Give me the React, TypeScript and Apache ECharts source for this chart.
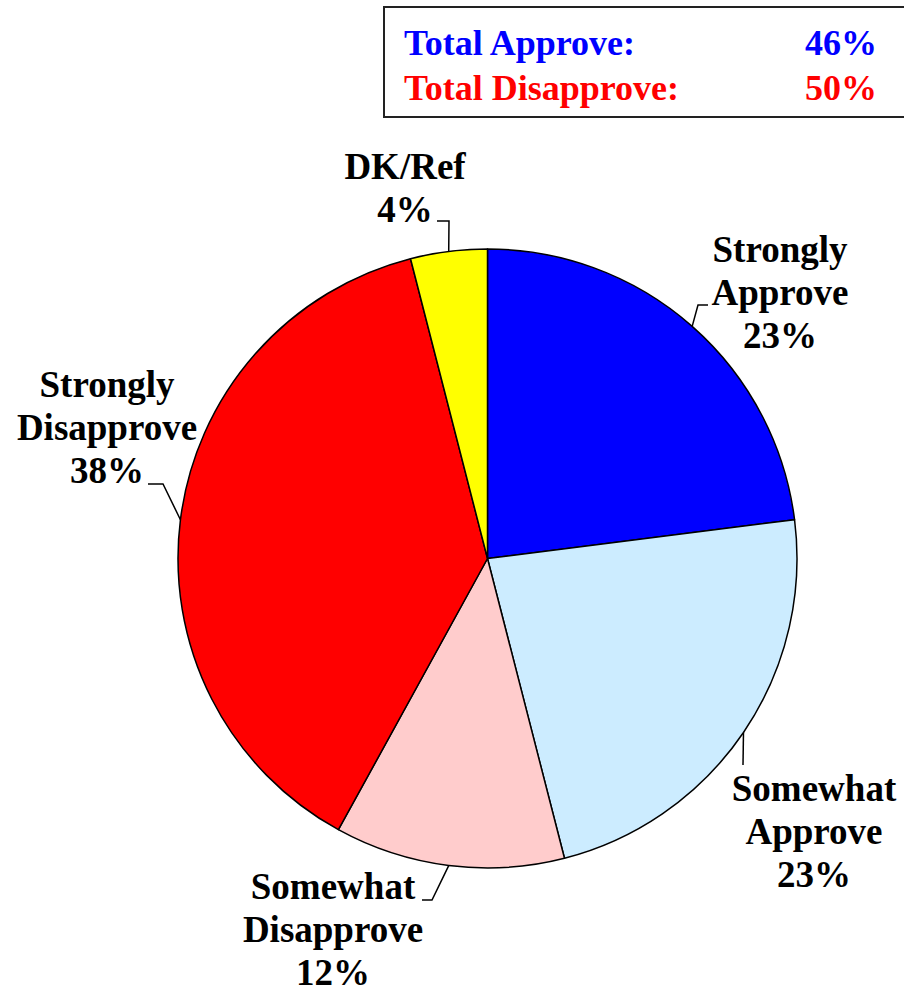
import React, { useEffect, useRef } from "react";
import * as echarts from "echarts";

// ---- data ----
const categories = [
  "Strongly\nApprove",
  "Somewhat\nApprove",
  "Somewhat\nDisapprove",
  "Strongly\nDisapprove",
  "DK/Ref",
];
const values = [23, 23, 12, 38, 4];
const sliceColors = ["#0000FF", "#CCECFF", "#FFCCCC", "#FF0000", "#FFFF00"];
const approveIdx = [0, 1];
const disapproveIdx = [2, 3];
const totalLabels = ["Total Approve:", "Total Disapprove:"];
const totalColors = ["#0000FF", "#FF0000"];

// ---- layout (label centre and leader-line bend, relative to page) ----
const labelCenters: [number, number][] = [
  [780, 292],
  [814, 831],
  [333, 929],
  [107, 427],
  [405, 188],
];
const leaderBends: [number, number][][] = [
  [[698, 305], [708, 305]],
  [[743, 765], [743, 765]],
  [[432, 900], [422, 900]],
  [[163, 484], [148, 484]],
  [[449, 221], [437, 221]],
];

const FONT = "'Liberation Serif', 'Times New Roman', serif";

export default function App() {
  const ref = useRef<HTMLDivElement>(null);
  useEffect(() => {
    if (!ref.current) return;
    const chart = echarts.init(ref.current, null, { renderer: "svg" });
    const sum = (idx: number[]) => idx.reduce((s, i) => s + values[i], 0);
    const totals = [sum(approveIdx), sum(disapproveIdx)];
    const cx = 487.5;
    const cy = 558.5;
    const r = 309.5;
    chart.setOption({
      animation: false,
      backgroundColor: "#ffffff",
      graphic: [
        {
          type: "rect",
          shape: { x: 384, y: 7, width: 530, height: 110 },
          style: { fill: "#ffffff", stroke: "#222222", lineWidth: 2 },
        },
        ...totalLabels.map((t, i) => ({
          type: "text",
          x: 404,
          y: 61 + i * 45,
          style: {
            text: t,
            fill: totalColors[i],
            font: `bold 36px ${FONT}`,
            textAlign: "left",
            textVerticalAlign: "bottom",
          },
        })),
        ...totals.map((v, i) => ({
          type: "text",
          x: 877,
          y: 61 + i * 45,
          style: {
            text: `${v}%`,
            fill: totalColors[i],
            font: `bold 36px ${FONT}`,
            textAlign: "right",
            textVerticalAlign: "bottom",
          },
        })),
      ],
      series: [
        {
          type: "pie",
          center: [cx, cy],
          radius: [0, r],
          startAngle: 90,
          clockwise: true,
          avoidLabelOverlap: false,
          itemStyle: { borderColor: "#000000", borderWidth: 1.5 },
          label: {
            show: true,
            position: "outside",
            formatter: (p: any) => `${p.name}\n${p.value}%`,
            fontFamily: FONT,
            fontWeight: "bold",
            fontSize: 37,
            lineHeight: 43,
            color: "#000000",
            align: "center",
          },
          labelLine: {
            show: true,
            smooth: false,
            length: 20,
            length2: 10,
            lineStyle: { color: "#000000", width: 1.5 },
          },
          labelLayout: (params: any) => {
            const i = params.dataIndex;
            let start: number[];
            if (params.labelLinePoints && params.labelLinePoints[0]) {
              start = params.labelLinePoints[0];
            } else {
              const total = values.reduce((a, b) => a + b, 0);
              const before = values.slice(0, i).reduce((a, b) => a + b, 0);
              const mid = ((before + values[i] / 2) / total) * Math.PI * 2;
              start = [cx + r * Math.sin(mid), cy - r * Math.cos(mid)];
            }
            return {
              x: labelCenters[i][0],
              y: labelCenters[i][1],
              align: "center",
              verticalAlign: "middle",
              labelLinePoints: [start, leaderBends[i][0], leaderBends[i][1]],
            };
          },
          data: categories.map((name, i) => ({
            name,
            value: values[i],
            itemStyle: { color: sliceColors[i] },
          })),
        },
      ],
    });
    return () => chart.dispose();
  }, []);
  return (
    <div
      ref={ref}
      style={{ position: "fixed", left: 0, top: 0, width: 904, height: 988 }}
    />
  );
}
